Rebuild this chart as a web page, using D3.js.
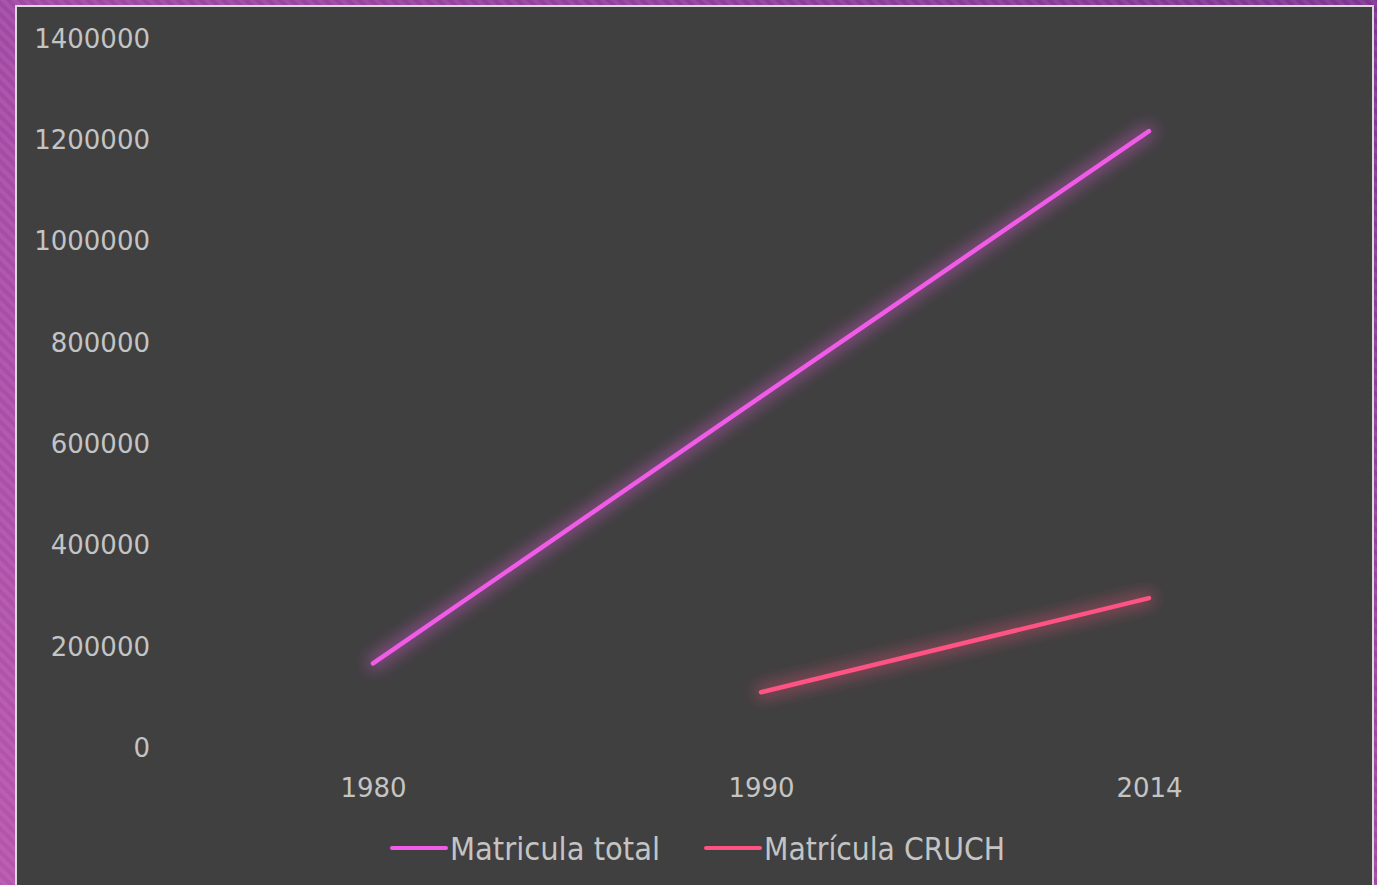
<!DOCTYPE html>
<html>
<head>
<meta charset="utf-8">
<script src="https://cdn.jsdelivr.net/npm/d3@7"></script>
<style>
    body { margin: 0; background: #b24fa8; overflow: hidden; }
    text { fill: #c4c4c4; }
    .tick text { font: 26px "DejaVu Sans", sans-serif; }
    .legend text { font: 32px "DejaVu Sans Condensed", "DejaVu Sans", sans-serif; }
</style>
</head>
<body>
<script>

    var years = ["1980", "1990", "2014"];
    var totalValues = [165000, 692000, 1216000];
    var cruchValues = [null, 108000, 294000];
    var seriesNames = ["Matricula total", "Matrícula CRUCH"];
    var seriesColors = ["#f05ce8", "#ff5284"];
    var yTicks = [0, 200000, 400000, 600000, 800000, 1000000, 1200000, 1400000];

    var width = 1377,
        height = 885;

    var svg = d3.select("body").append("svg")
        .attr("width", width)
        .attr("height", height);

    var defs = svg.append("defs");

    // purple slide background with fine diagonal stripes
    var grad = defs.append("linearGradient")
        .attr("id", "bg")
        .attr("x1", "0").attr("y1", "1").attr("x2", "1").attr("y2", "0");
    grad.append("stop").attr("offset", "0%").attr("stop-color", "#b655ac");
    grad.append("stop").attr("offset", "45%").attr("stop-color", "#a44aa6");
    grad.append("stop").attr("offset", "100%").attr("stop-color", "#7e3592");

    var pat = defs.append("pattern")
        .attr("id", "stripes")
        .attr("width", 8).attr("height", 8)
        .attr("patternUnits", "userSpaceOnUse")
        .attr("patternTransform", "rotate(-45)");
    pat.append("rect").attr("width", 4).attr("height", 8).attr("fill", "rgba(255,255,255,0.07)");

    var glow = defs.append("filter")
        .attr("id", "glow")
        .attr("x", "-20%").attr("y", "-30%").attr("width", "140%").attr("height", "160%");
    glow.append("feMorphology").attr("in", "SourceGraphic").attr("operator", "dilate").attr("radius", 3).attr("result", "d");
    glow.append("feGaussianBlur").attr("in", "d").attr("stdDeviation", 8).attr("result", "b");
    glow.append("feComponentTransfer").attr("in", "b").attr("result", "bf")
        .append("feFuncA").attr("type", "linear").attr("slope", 0.45);
    var merge = glow.append("feMerge");
    merge.append("feMergeNode").attr("in", "bf");
    merge.append("feMergeNode").attr("in", "SourceGraphic");

    svg.append("rect").attr("width", width).attr("height", height).attr("fill", "url(#bg)");
    svg.append("rect").attr("width", width).attr("height", height).attr("fill", "url(#stripes)");

    // chart area
    svg.append("rect")
        .attr("x", 16).attr("y", 6)
        .attr("width", 1357).attr("height", 900)
        .attr("fill", "#404040")
        .attr("stroke", "#d9d9d9")
        .attr("stroke-width", 2);

    var x = d3.scalePoint()
        .domain(years)
        .range([373, 1149]);

    var y = d3.scaleLinear()
        .domain([0, 1400000])
        .range([747, 38]);

    var yAxis = svg.append("g")
        .attr("transform", "translate(150,0)")
        .call(d3.axisLeft(y).tickValues(yTicks).tickFormat(d3.format("d")).tickSize(0).tickPadding(0));
    yAxis.select(".domain").remove();
    yAxis.selectAll("text").attr("dy", "0.36em");

    var xAxis = svg.append("g")
        .attr("transform", "translate(0,777)")
        .call(d3.axisBottom(x).tickSize(0).tickPadding(0));
    xAxis.select(".domain").remove();
    xAxis.selectAll("text").attr("dy", "0.75em");

    var line = d3.line()
        .defined(function (d) { return d.v !== null; })
        .x(function (d) { return x(d.year); })
        .y(function (d) { return y(d.v); });

    var series = [totalValues, cruchValues].map(function (vals, i) {
        return {
            name: seriesNames[i],
            color: seriesColors[i],
            points: years.map(function (yr, j) { return {year: yr, v: vals[j]}; })
        };
    });

    svg.append("g").selectAll("path")
        .data(series)
        .enter().append("path")
        .attr("d", function (d) { return line(d.points); })
        .attr("fill", "none")
        .attr("stroke", function (d) { return d.color; })
        .attr("stroke-width", 4.5)
        .attr("stroke-linecap", "round")
        .attr("filter", "url(#glow)");

    // legend
    var legendX = [392, 706];
    var legend = svg.append("g").attr("class", "legend")
        .selectAll("g")
        .data(series)
        .enter().append("g")
        .attr("transform", function (d, i) { return "translate(" + legendX[i] + ",848)"; });

    legend.append("line")
        .attr("x1", 0).attr("x2", 54)
        .attr("stroke", function (d) { return d.color; })
        .attr("stroke-width", 4)
        .attr("stroke-linecap", "round");

    legend.append("text")
        .attr("x", 58)
        .attr("dy", "0.36em")
        .attr("textLength", function (d, i) { return i === 0 ? 210 : 241; })
        .attr("lengthAdjust", "spacingAndGlyphs")
        .text(function (d) { return d.name; });

</script>
</body>
</html>
